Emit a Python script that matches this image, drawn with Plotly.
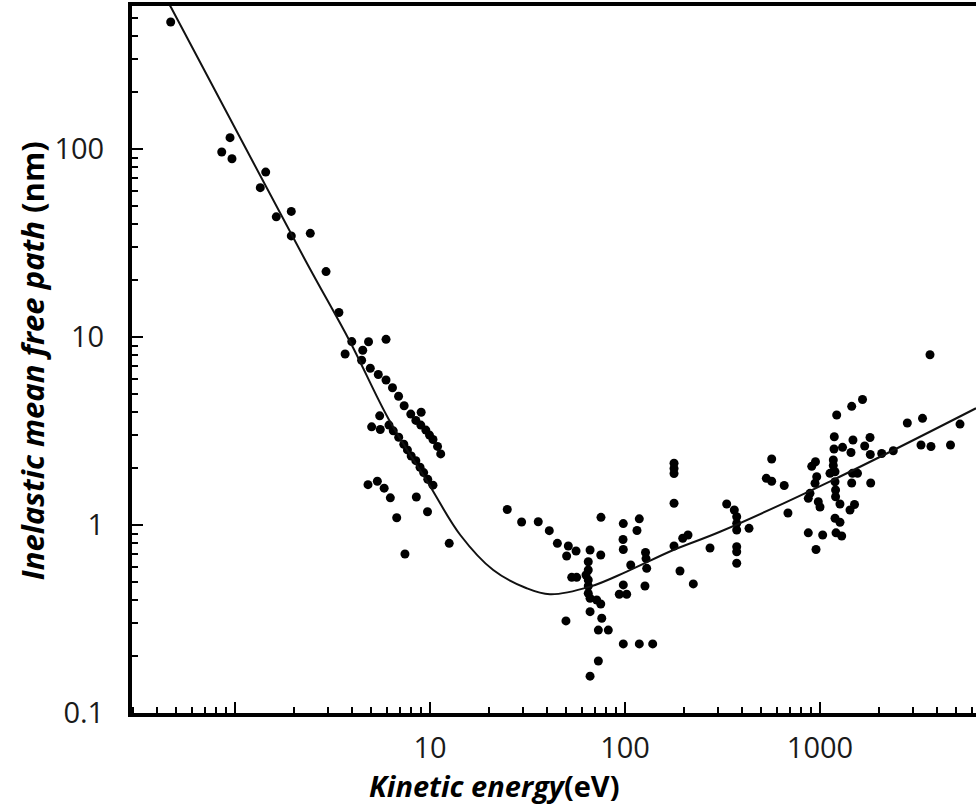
import plotly.graph_objects as go

# Scatter data: kinetic energy (eV) vs inelastic mean free path (nm)
energy_eV = [
    0.468, 0.943, 0.855, 0.965, 1.437, 1.348, 1.944, 1.628, 1.944, 2.433,
    2.93, 3.41, 3.97, 4.84, 5.95, 3.67, 4.52, 4.46, 4.94, 5.43,
    5.95, 6.42, 6.90, 7.37, 7.97, 9.01, 8.46, 8.97, 9.52, 9.94,
    10.36, 10.93, 11.35, 5.52, 5.02, 5.56, 6.16, 6.48, 6.91, 7.34,
    7.66, 8.01, 8.46, 8.89, 9.28, 9.74, 10.36, 4.81, 5.37, 5.82,
    6.26, 8.51, 9.71, 6.75, 12.55, 7.44,
    24.9, 29.5, 35.9, 40.9, 45.0, 51.2, 56.1, 50.2, 66.2, 75.1,
    75.3, 64.8, 64.8, 53.3, 56.5, 63.1, 64.8, 64.8, 64.8, 66.2,
    71.6, 75.1, 66.2, 76.0, 49.8, 73.0, 82.1, 73.0, 66.2,
    98.0, 118.4, 115.2, 97.7, 98.0, 107, 127.4, 128.2, 129.2, 98.0,
    93.5, 102, 126.6, 98.0, 118.4, 138.7,
    178.4, 178.4, 178.4, 178.4, 178.4, 197.7, 210.4, 191.4, 224, 272.9,
    332.3, 363.5, 374, 374, 374, 432.5, 374, 374, 374,
    565.3, 530.5, 565.3, 655.3, 685, 871, 1032, 954, 1208, 1292,
    1194, 1266, 888.5, 871, 980, 1000, 1266, 1503, 1425, 1194,
    1202, 1202, 943, 962, 1454, 1820, 1468, 1557, 1125, 1194,
    1170, 1170, 948, 907, 1180, 1305, 1184, 1476, 1805, 1442,
    1695, 1811, 2072, 2376, 1218, 1454, 1652, 2804, 3355, 5224,
    3665, 3296, 3708, 4669,
]
imfp_nm = [
    474, 115, 96.4, 88.8, 75.4, 62.3, 46.6, 43.6, 34.5, 35.6,
    22.3, 13.5, 9.46, 9.44, 9.72, 8.12, 8.50, 7.52, 6.82, 6.32,
    5.91, 5.37, 4.84, 4.31, 3.89, 3.98, 3.60, 3.40, 3.20, 3.01,
    2.85, 2.62, 2.39, 3.81, 3.33, 3.22, 3.40, 3.17, 2.93, 2.69,
    2.51, 2.33, 2.20, 2.03, 1.90, 1.75, 1.63, 1.64, 1.71, 1.57,
    1.395, 1.41, 1.177, 1.093, 0.799, 0.701,
    1.209, 1.037, 1.041, 0.933, 0.799, 0.773, 0.727, 0.684, 0.736, 0.693,
    1.099, 0.638, 0.576, 0.527, 0.527, 0.542, 0.510, 0.474, 0.433, 0.408,
    0.399, 0.380, 0.346, 0.319, 0.309, 0.276, 0.276, 0.189, 0.157,
    1.018, 1.079, 0.935, 0.837, 0.741, 0.613, 0.714, 0.663, 0.588, 0.480,
    0.428, 0.428, 0.474, 0.233, 0.233, 0.233,
    2.13, 2.00, 1.88, 1.305, 0.773, 0.850, 0.885, 0.569, 0.486, 0.755,
    1.293, 1.202, 1.107, 1.021, 0.941, 0.960, 0.767, 0.721, 0.626,
    2.244, 1.772, 1.710, 1.622, 1.158, 0.909, 0.885, 0.741, 0.909, 0.874,
    1.086, 1.035, 1.474, 1.387, 1.330, 1.247, 1.293, 1.285, 1.202, 1.70,
    1.535, 1.414, 1.667, 1.807, 1.673, 1.673, 1.884, 1.884, 1.884, 1.921,
    2.073, 2.217, 2.171, 2.052, 2.536, 2.590, 2.949, 2.832, 2.921, 2.430,
    2.632, 2.371, 2.401, 2.484, 3.846, 4.279, 4.652, 3.487, 3.695, 3.444,
    8.05, 2.665, 2.616, 2.665,
]

# Universal curve
curve_energy_eV = [0.44, 0.468, 2.29, 3.89, 6.11, 9.80, 14.3, 21.1,
                   31.3, 41.2, 66.2, 102, 177, 307, 1170, 6310]
curve_imfp_nm = [640, 571, 25.7, 9.44, 3.69, 1.667, 0.885, 0.576,
                 0.461, 0.428, 0.470, 0.565, 0.736, 0.921, 1.74, 4.18]

x_tick_vals = [1, 10, 100, 1000]
x_tick_text = ["", "10", "100", "1000"]
y_tick_vals = [0.1, 1, 10, 100]
y_tick_text = ["0.1", "1", "10", "100"]

x_title = "<b><i>Kinetic energy</i>(eV)</b>"
y_title = "<b><i>Inelastic mean free path</i> (nm)</b>"

y_range = [-1.0, 2.761]

fig = go.Figure()
fig.add_trace(go.Scatter(
    x=curve_energy_eV, y=curve_imfp_nm, mode="lines", yaxis="y2",
    line=dict(color="#111111", width=2, shape="spline", smoothing=1.0),
    hoverinfo="skip",
))
fig.add_trace(go.Scatter(
    x=energy_eV, y=imfp_nm, mode="markers",
    marker=dict(color="#000000", size=9, line=dict(width=0)),
))

tick_font = dict(family="Open Sans", size=29, color="#1a1a1a")
minor = dict(ticks="inside", ticklen=6, tickwidth=2, tickcolor="black",
             dtick="D1", showgrid=False)

fig.update_layout(
    width=976, height=806,
    margin=dict(l=132, r=0, t=6, b=93),
    plot_bgcolor="white", paper_bgcolor="white",
    showlegend=False,
    annotations=[
        dict(text=x_title, xref="paper", yref="paper", x=0.430, y=-0.102,
             xanchor="center", yanchor="middle", showarrow=False,
             font=dict(family="Open Sans", size=29, color="black")),
        dict(text=y_title, xref="paper", yref="paper", x=-0.1185, y=0.499,
             xanchor="center", yanchor="middle", showarrow=False, textangle=-90,
             font=dict(family="Open Sans", size=31, color="black")),
    ],
    # secondary axis only carries the inward tick marks
    yaxis2=dict(
        type="log", range=y_range, overlaying="y", side="left", anchor="x",
        tickmode="array", tickvals=y_tick_vals, showticklabels=False,
        ticks="inside", ticklen=11, tickwidth=2, tickcolor="black",
        showline=False, showgrid=False, zeroline=False, minor=minor,
    ),
)
fig.update_xaxes(
    type="log", range=[-0.5282, 3.80],
    tickmode="array", tickvals=x_tick_vals, ticktext=x_tick_text,
    ticks="inside", ticklen=11, tickwidth=2, tickcolor="black",
    showline=True, linewidth=4, linecolor="black", mirror=True,
    showgrid=False, zeroline=False, minor=minor, tickfont=tick_font,
    ticklabelstandoff=6,
)
fig.update_layout(yaxis=dict(
    type="log", range=y_range,
    tickmode="array", tickvals=y_tick_vals, ticktext=y_tick_text,
    ticks="outside", ticklen=18, tickwidth=1, tickcolor="rgba(0,0,0,0)",
    showline=True, linewidth=4, linecolor="black", mirror=False,
    showgrid=False, zeroline=False, tickfont=tick_font,
))

fig.write_html("out.html")
